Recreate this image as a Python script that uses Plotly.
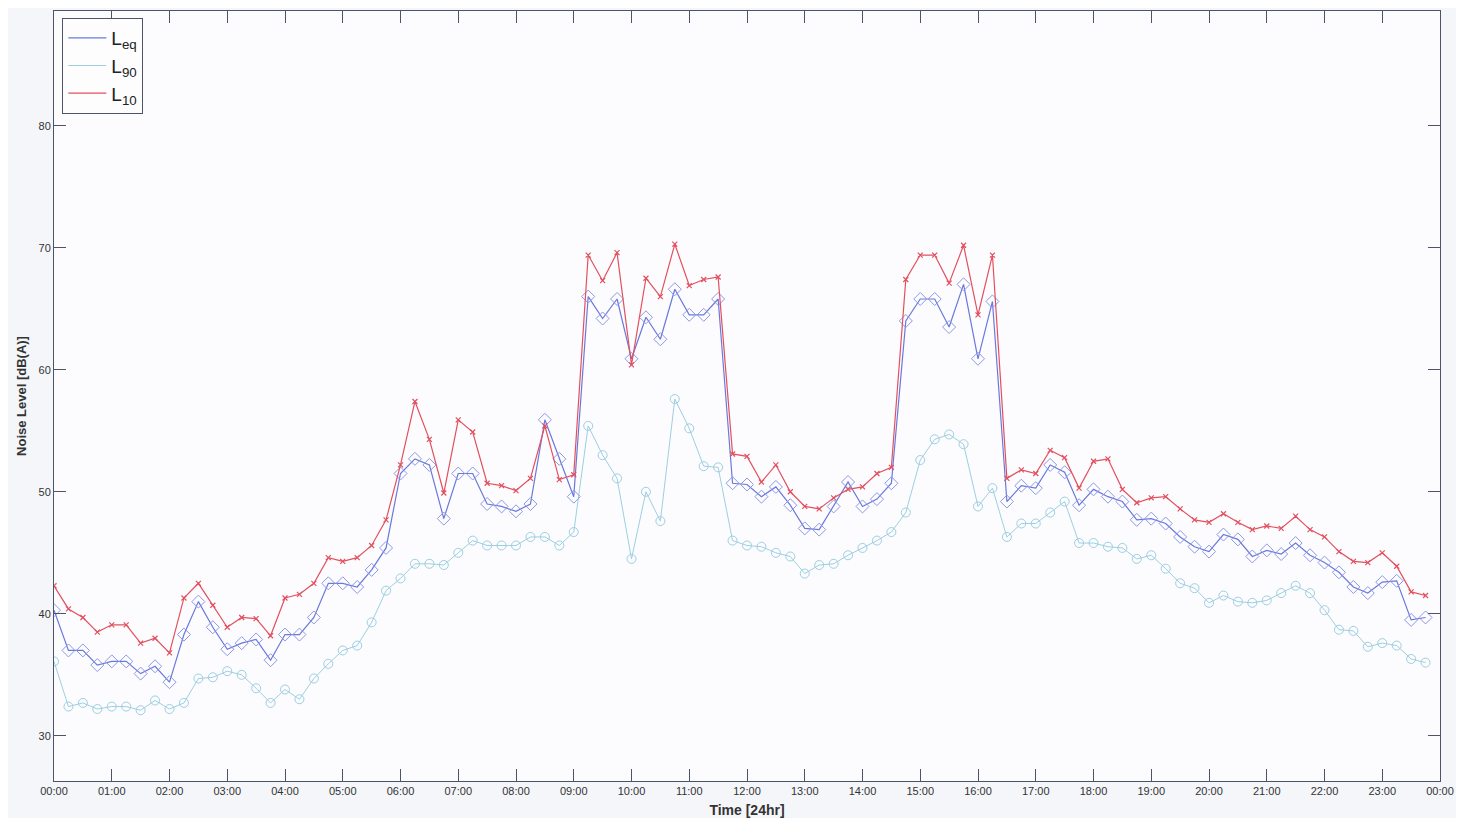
import plotly.graph_objects as go

# 15-minute intervals, hours from midnight
time_hours = [i * 0.25 for i in range(96)]

leq = [40.3, 37.0, 37.0, 35.8, 36.1, 36.1, 35.1, 35.7, 34.4, 38.3, 41.0, 38.9,
       37.1, 37.6, 37.9, 36.2, 38.3, 38.3, 39.7, 42.5, 42.5, 42.2, 43.6, 45.4,
       51.5, 52.7, 52.2, 47.8, 51.5, 51.5, 49.0, 48.8, 48.4, 49.0, 55.9, 52.7,
       49.6, 66.0, 64.2, 65.8, 60.9, 64.3, 62.5, 66.6, 64.5, 64.5, 65.8, 50.7,
       50.6, 49.6, 50.4, 48.9, 47.0, 46.9, 48.8, 50.8, 48.8, 49.4, 50.7, 64.0,
       65.8, 65.8, 63.5, 67.0, 60.9, 65.6, 49.2, 50.5, 50.3, 52.2, 51.6, 48.9,
       50.2, 49.6, 49.2, 47.7, 47.8, 47.4, 46.3, 45.5, 45.1, 46.5, 46.1, 44.7,
       45.2, 44.9, 45.8, 44.8, 44.2, 43.4, 42.2, 41.7, 42.6, 42.7, 39.5, 39.7]

l90 = [36.1, 32.4, 32.7, 32.2, 32.4, 32.4, 32.1, 32.9, 32.2, 32.7, 34.7, 34.8,
       35.3, 35.0, 33.9, 32.7, 33.8, 33.0, 34.7, 35.9, 37.0, 37.4, 39.3, 41.9,
       42.9, 44.1, 44.1, 44.0, 45.0, 46.0, 45.6, 45.6, 45.6, 46.3, 46.3, 45.6,
       46.7, 55.4, 53.0, 51.1, 44.5, 50.0, 47.6, 57.6, 55.2, 52.1, 52.0, 46.0,
       45.6, 45.5, 45.0, 44.7, 43.3, 44.0, 44.1, 44.8, 45.4, 46.0, 46.7, 48.3,
       52.6, 54.3, 54.7, 53.9, 48.8, 50.3, 46.3, 47.4, 47.4, 48.3, 49.2, 45.8,
       45.8, 45.5, 45.4, 44.5, 44.8, 43.7, 42.5, 42.1, 40.9, 41.5, 41.0, 40.9,
       41.1, 41.7, 42.3, 41.7, 40.3, 38.7, 38.6, 37.3, 37.6, 37.4, 36.3, 36.0]

l10 = [42.3, 40.4, 39.7, 38.5, 39.1, 39.1, 37.6, 38.0, 36.8, 41.3, 42.5, 40.7,
       38.9, 39.7, 39.6, 38.2, 41.3, 41.6, 42.5, 44.6, 44.3, 44.6, 45.6, 47.7,
       52.2, 57.4, 54.3, 49.9, 55.9, 54.9, 50.7, 50.5, 50.1, 51.1, 55.4, 51.0,
       51.4, 69.4, 67.3, 69.6, 60.4, 67.5, 66.0, 70.3, 66.9, 67.4, 67.6, 53.1,
       52.9, 50.8, 52.2, 50.0, 48.8, 48.6, 49.5, 50.2, 50.4, 51.5, 52.0, 67.4,
       69.4, 69.4, 67.1, 70.2, 64.5, 69.4, 51.1, 51.8, 51.5, 53.4, 52.8, 50.3,
       52.5, 52.7, 50.2, 49.1, 49.5, 49.6, 48.6, 47.7, 47.5, 48.2, 47.5, 46.9,
       47.2, 47.0, 48.0, 46.9, 46.3, 45.1, 44.3, 44.2, 45.0, 43.9, 41.8, 41.5]

tick_hours = list(range(25))
tick_labels = [f"{h % 24:02d}:00" for h in tick_hours]
y_ticks = [30, 40, 50, 60, 70, 80]

c_leq = "#6a78dc"
c_l90 = "#9ccfe0"
c_l10 = "#e2505e"
axis_col = "#4e5468"

fig = go.Figure()

fig.add_trace(go.Scatter(
    x=time_hours, y=l90, mode="lines+markers", showlegend=False,
    line=dict(color=c_l90, width=1),
    marker=dict(symbol="circle-open", size=9, color=c_l90, line=dict(width=1))))
fig.add_trace(go.Scatter(
    x=time_hours, y=leq, mode="lines+markers", showlegend=False,
    line=dict(color=c_leq, width=1.2),
    marker=dict(symbol="diamond-open", size=10, color="#8c98e6", line=dict(width=1))))
fig.add_trace(go.Scatter(
    x=time_hours, y=l10, mode="lines+markers", showlegend=False,
    line=dict(color=c_l10, width=1.2),
    marker=dict(symbol="x-thin-open", size=5, color=c_l10, line=dict(width=1.2, color=c_l10))))

# legend entries (line samples only)
for name, col in [("L<sub>eq</sub>", c_leq), ("L<sub>90</sub>", c_l90), ("L<sub>10</sub>", c_l10)]:
    fig.add_trace(go.Scatter(x=[None], y=[None], mode="lines", name=name,
                             line=dict(color=col, width=1.2)))

fig.update_layout(
    width=1448, height=810,
    margin=dict(l=46, r=14, t=2, b=37),
    paper_bgcolor="#f5f6fa",
    plot_bgcolor="#fcfcfe",
    font=dict(family="Liberation Sans, Arial, sans-serif", color="#333333"),
    showlegend=True,
    legend=dict(
        x=0.006, y=0.991, xanchor="left", yanchor="top",
        bgcolor="#fdfdfe", bordercolor=axis_col, borderwidth=1,
        font=dict(size=19, color="#222222"),
        tracegroupgap=0, itemwidth=38,
    ),
)

fig.update_xaxes(
    range=[0, 24], tickmode="array", tickvals=tick_hours, ticktext=tick_labels,
    ticks="inside", ticklen=12, tickcolor=axis_col, tickwidth=1,
    showline=True, linecolor=axis_col, linewidth=1, mirror="ticks",
    showgrid=False, zeroline=False,
    tickfont=dict(size=11, color="#333333"),
    title=dict(text="<b>Time [24hr]</b>", font=dict(size=14, color="#333333"), standoff=9),
)
fig.update_yaxes(
    range=[26.3, 89.4], tickmode="array", tickvals=y_ticks,
    ticks="inside", ticklen=12, tickcolor=axis_col, tickwidth=1,
    showline=True, linecolor=axis_col, linewidth=1, mirror="ticks",
    showgrid=False, zeroline=False,
    tickfont=dict(size=11, color="#333333"),
    title=dict(text="<b>Noise Level [dB(A)]</b>", font=dict(size=13, color="#333333"), standoff=8),
)

fig.write_html("out.html")
